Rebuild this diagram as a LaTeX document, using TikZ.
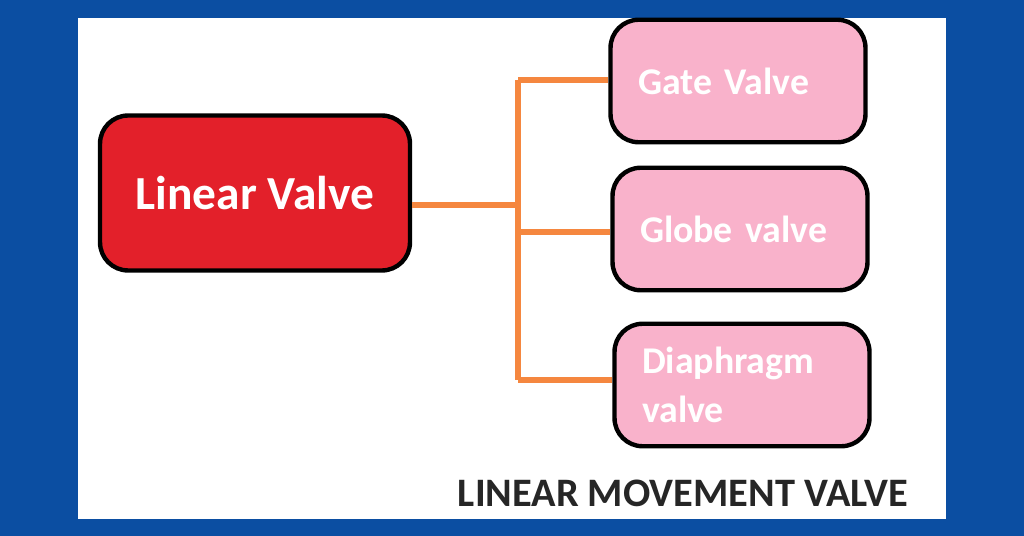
\documentclass[tikz,border=0pt]{standalone}
\usepackage{fontspec}
\setmainfont{Carlito}
\usepackage{tikz}
\definecolor{frameblue}{HTML}{0B4EA2}
\definecolor{valvered}{HTML}{E3202A}
\definecolor{valvepink}{HTML}{F9B2CB}
\definecolor{linkorange}{HTML}{F5873F}
\begin{document}
\begin{tikzpicture}[x=0.02cm,y=-0.02cm]
            \tikzstyle{main}=[draw=black,line width=2.5pt,rounded corners=16pt,fill=valvered,
                text=white,font=\bfseries\fontsize{27}{30}\selectfont,minimum width=6.2cm,minimum height=3.1cm]
            \tikzstyle{kind}=[draw=black,line width=2.5pt,rounded corners=16pt,fill=valvepink,
                text=white,font=\bfseries\fontsize{21.5}{28}\selectfont,minimum width=5.1cm,minimum height=2.45cm,
                text width=4.0cm,align=left]
            \tikzstyle{link}=[draw=linkorange,line width=3pt]
            \fill[frameblue] (0,0) rectangle (1024,536);
            \fill[white] (78,18) rectangle (946,519);
            \node[main] (linear) at (255,193) {Linear Valve};
            \node[kind] (gate) at (738,81) {Gate Valve};
            \node[kind] (globe) at (740,229) {Globe valve};
            \node[kind] (diaphragm) at (742,385) {Diaphragm\\valve};
            \coordinate (hub) at (518,205);
            \draw[link] (linear.east|-hub) -- (hub);
            \draw[link] (hub|-0,80) -- (hub|-0,380);
            \draw[link] (hub|-0,80) -- (gate.west|-0,80);
            \draw[link] (hub|-0,232) -- (globe.west|-0,232);
            \draw[link] (hub|-0,380) -- (diaphragm.west|-0,380);
            \node[font=\bfseries\fontsize{23}{26}\selectfont,text=black!85] (title) at (683,493) {LINEAR MOVEMENT VALVE};
        \end{tikzpicture}
\end{document}
